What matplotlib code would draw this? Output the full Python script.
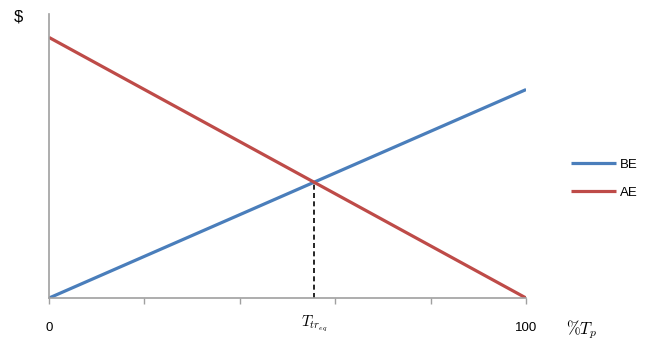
import matplotlib
matplotlib.use('Agg')
import matplotlib.pyplot as plt

plt.rcParams['mathtext.fontset'] = 'cm'

# share of T_p (%) and cost ($, arbitrary units)
pct = [0, 100]
be = [0, 80]
ae = [100, 0]
x_ticks = [0, 20, 40, 60, 80, 100]

# crossing point of the two lines
x_eq = 100 * ae[0] / (ae[0] + be[1])
y_eq = be[1] * x_eq / 100

fig = plt.figure(figsize=(6.5, 3.49), dpi=100)
ax = fig.add_axes([0.0754, 0.146, 0.734, 0.814])

ax.plot(pct, be, color='#4a7ebb', lw=2.3, label='BE', solid_capstyle='butt')
ax.plot(pct, ae, color='#be4b48', lw=2.3, label='AE', solid_capstyle='butt')
ax.plot([x_eq, x_eq], [0, y_eq], color='black', lw=1.2, ls=(0, (3, 2)))

ax.set_xlim(0, 100)
ax.set_ylim(0, 109)
for s in ['top', 'right']:
    ax.spines[s].set_visible(False)
for s in ['left', 'bottom']:
    ax.spines[s].set_color('#a0a0a0')
    ax.spines[s].set_linewidth(1.2)
ax.set_xticks(x_ticks)
ax.set_xticklabels([])
ax.set_yticks([])
ax.tick_params(axis='x', direction='out', length=4, color='#a0a0a0', width=1)

ax.text(0, -11.5, '0', ha='center', va='center', fontsize=9.5, family='Liberation Sans')
ax.text(100, -11.5, '100', ha='center', va='center', fontsize=9.5, family='Liberation Sans')
ax.text(x_eq, -9.5, r'$T_{tr_{eq}}$', ha='center', va='center', fontsize=11)
fig.text(0.87, 0.055, r'$\%T_p$', ha='left', va='center', fontsize=12)
fig.text(0.028, 0.95, '$', ha='center', va='center', fontsize=12, family='Liberation Sans')

leg = ax.legend(loc='center left', bbox_to_anchor=(1.07, 0.42), frameon=False,
                fontsize=9.5, handlelength=3.4, labelspacing=1.2, handletextpad=0.3)
for t in leg.get_texts():
    t.set_family('Liberation Sans')

fig.savefig('out.png', dpi=100)
